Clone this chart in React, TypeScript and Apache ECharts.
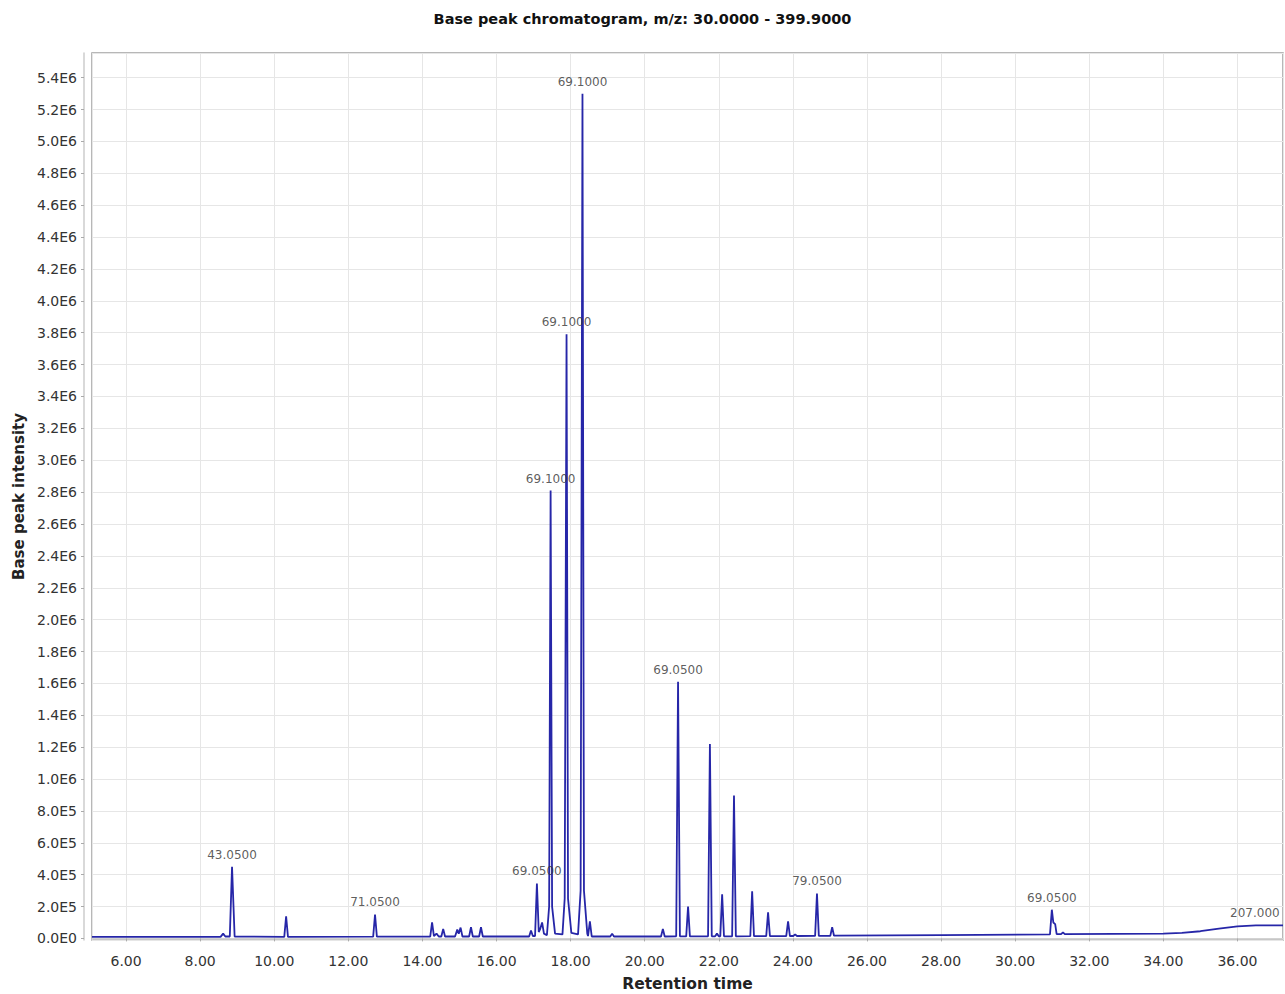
import React, { useEffect, useRef } from "react";
import * as echarts from "echarts";

const chartTitle = "Base peak chromatogram, m/z: 30.0000 - 399.9000";
const xAxisName = "Retention time";
const yAxisName = "Base peak intensity";

// Retention time (min), base peak intensity
const trace: [number, number][] = [
  [5.08, 9000],
  [8.55, 10000], [8.62, 30000], [8.68, 12000],
  [8.8, 12000], [8.86, 450000], [8.93, 12000],
  [10.27, 10000], [10.32, 138000], [10.37, 10000],
  [12.67, 11000], [12.72, 150000], [12.77, 11000],
  [14.21, 11000], [14.26, 100000], [14.31, 15000], [14.38, 30000], [14.44, 12000],
  [14.51, 12000], [14.56, 60000], [14.61, 12000],
  [14.88, 12000], [14.94, 55000], [14.98, 30000], [15.03, 68000], [15.08, 12000],
  [15.26, 12000], [15.31, 70000], [15.36, 12000],
  [15.53, 12000], [15.58, 70000], [15.63, 12000],
  [16.88, 12000], [16.93, 50000], [16.98, 15000],
  [17.04, 15000], [17.09, 345000], [17.14, 40000], [17.18, 60000], [17.23, 100000], [17.28, 30000],
  [17.36, 20000], [17.42, 200000], [17.46, 2810000], [17.5, 200000], [17.58, 30000],
  [17.78, 25000], [17.84, 250000], [17.89, 3790000], [17.93, 250000], [18.02, 35000],
  [18.2, 25000], [18.27, 300000], [18.32, 5300000], [18.36, 300000], [18.45, 30000],
  [18.47, 15000], [18.52, 107000], [18.57, 12000],
  [19.07, 12000], [19.12, 30000], [19.17, 12000],
  [20.44, 12000], [20.49, 60000], [20.54, 12000],
  [20.85, 13000], [20.9, 1610000], [20.95, 13000],
  [21.12, 13000], [21.17, 200000], [21.22, 13000],
  [21.71, 13000], [21.76, 1220000], [21.81, 13000],
  [21.9, 13000], [21.95, 30000], [22.0, 13000],
  [22.04, 13000], [22.09, 276000], [22.14, 13000],
  [22.36, 13000], [22.41, 897000], [22.46, 13000],
  [22.85, 14000], [22.9, 295000], [22.95, 14000],
  [23.28, 14000], [23.33, 163000], [23.38, 14000],
  [23.82, 15000], [23.87, 107000], [23.92, 15000],
  [24.01, 15000], [24.06, 25000], [24.11, 15000],
  [24.6, 16000], [24.65, 282000], [24.7, 16000],
  [25.01, 16000], [25.06, 70000], [25.11, 17000],
  [28.0, 21000],
  [30.94, 25000], [30.99, 180000], [31.03, 100000], [31.08, 90000], [31.12, 27000],
  [31.24, 27000], [31.29, 38000], [31.34, 27000],
  [34.0, 30000], [34.5, 35000], [35.0, 45000], [35.5, 62000], [36.0, 76000], [36.5, 82000], [37.23, 82000],
];

// Peak annotations: m/z text, retention time, intensity
const annotationTexts = ["43.0500", "71.0500", "69.0500", "69.1000", "69.1000", "69.1000", "69.0500", "79.0500", "69.0500", "207.000"];
const annotationTimes = [8.86, 12.72, 17.09, 17.46, 17.89, 18.32, 20.9, 24.65, 30.99, 36.47];
const annotationValues = [450000, 150000, 345000, 2810000, 3790000, 5300000, 1610000, 282000, 180000, 82000];

const xMin = 5.08;
const xMax = 37.23;
const yMin = -10000;
const yMax = 5555000;

function formatIntensity(v: number): string {
  if (v === 0) return "0.0E0";
  if (Math.abs(v) >= 1e6) return (v / 1e6).toFixed(1) + "E6";
  return (v / 1e5).toFixed(1) + "E5";
}

export default function App() {
  const ref = useRef<HTMLDivElement>(null);
  useEffect(() => {
    document.body.style.margin = "0";
    if (!ref.current) return;
    const chart = echarts.init(ref.current, undefined, { renderer: "svg" });
    const font = "DejaVu Sans";
    chart.setOption({
      animation: false,
      backgroundColor: "#ffffff",
      title: {
        text: chartTitle,
        left: "center",
        top: 6,
        textStyle: { fontFamily: font, fontSize: 14.5, fontWeight: "bold", color: "#111" },
      },
      grid: {
        left: 92,
        right: 2,
        top: 53,
        bottom: 54,
        show: true,
        outerBoundsMode: "none",
        containLabel: false,
        borderColor: "#a0a0a0",
        borderWidth: 1.5,
        backgroundColor: "#ffffff",
      },
      xAxis: {
        type: "value",
        min: xMin,
        max: xMax,
        minInterval: 2,
        maxInterval: 2,
        splitNumber: 16,
        offset: 6,
        name: xAxisName,
        nameLocation: "middle",
        nameGap: 30,
        nameTextStyle: { fontFamily: font, fontSize: 15.5, fontWeight: "bold", color: "#222" },
        axisLine: { show: true, lineStyle: { color: "#cccccc", width: 1.5 } },
        axisTick: { show: true, length: 3, lineStyle: { color: "#aaaaaa" } },
        axisLabel: {
          fontFamily: font,
          fontSize: 14,
          color: "#333",
          margin: 8,
          showMinLabel: false,
          showMaxLabel: false,
          formatter: (v: number) => v.toFixed(2),
        },
        splitLine: { show: true, lineStyle: { color: "#e6e6e6", width: 1 } },
      },
      yAxis: {
        type: "value",
        min: yMin,
        max: yMax,
        minInterval: 200000,
        maxInterval: 200000,
        splitNumber: 28,
        offset: 8,
        name: yAxisName,
        nameLocation: "middle",
        nameGap: 56,
        nameTextStyle: { fontFamily: font, fontSize: 15, fontWeight: "bold", color: "#222" },
        axisLine: { show: true, lineStyle: { color: "#cccccc", width: 1.5 } },
        axisTick: { show: true, length: 3, lineStyle: { color: "#aaaaaa" } },
        axisLabel: {
          fontFamily: font,
          fontSize: 14,
          color: "#333",
          margin: 7,
          showMinLabel: false,
          showMaxLabel: false,
          formatter: formatIntensity,
        },
        splitLine: { show: true, lineStyle: { color: "#e6e6e6", width: 1 } },
      },
      series: [
        {
          type: "line",
          data: trace,
          showSymbol: false,
          symbol: "none",
          lineStyle: { color: "#2626a8", width: 1.8 },
          silent: true,
          z: 3,
        },
        {
          type: "scatter",
          data: annotationTexts.map((t, i) => ({
            name: t,
            value: [annotationTimes[i], annotationValues[i]],
          })),
          symbolSize: 0,
          silent: true,
          z: 4,
          label: {
            show: true,
            position: "top",
            distance: 6,
            formatter: (p: any) => p.name,
            fontFamily: font,
            fontSize: 12,
            color: "#333",
          },
        },
      ],
    });
    return () => chart.dispose();
  }, []);
  return <div ref={ref} style={{ width: 1285, height: 994 }} />;
}
